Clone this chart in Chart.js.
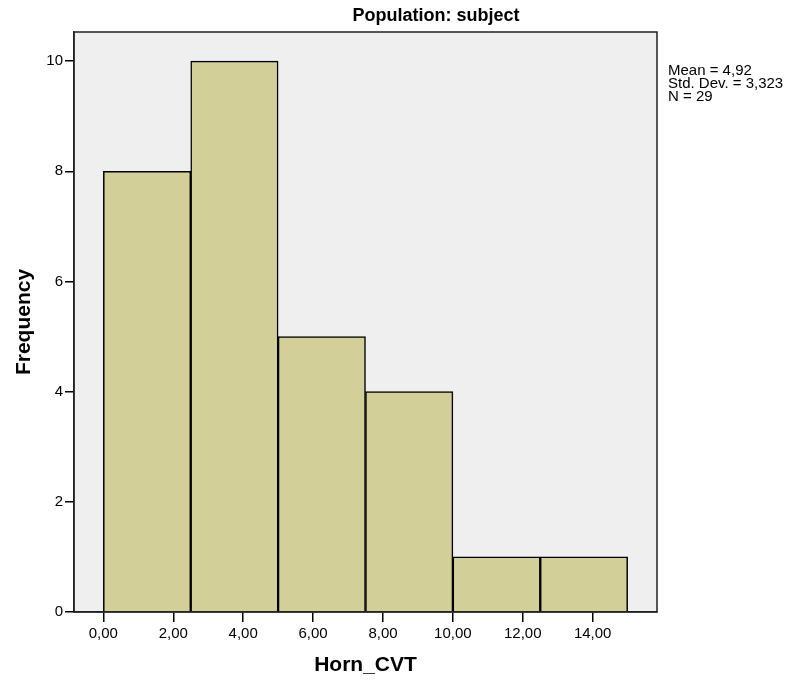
<!DOCTYPE html>
<html>
<head>
<meta charset="utf-8">
<script src="https://cdn.jsdelivr.net/npm/chart.js@4"></script>
<style>
  body { margin: 0; background: #fff; }
  canvas { display: block; }
</style>
</head>
<body>
<canvas id="histChart" width="792" height="684"></canvas>
<script>
const binStarts = [0, 2.5, 5, 7.5, 10, 12.5];
const binWidth = 2.5;
const frequencies = [8, 10, 5, 4, 1, 1];
const xTicks = [0, 2, 4, 6, 8, 10, 12, 14];
const yTicks = [0, 2, 4, 6, 8, 10];
const statsLines = ['Mean = 4,92', 'Std. Dev. = 3,323', 'N = 29'];
const chartTitle = 'Population: subject';

const FONT = "'Liberation Sans', Arial, sans-serif";
Chart.defaults.font.family = FONT;
Chart.defaults.color = '#000';

const frame = {
  id: 'frame',
  beforeDraw(chart) {
    const { ctx, chartArea: a } = chart;
    ctx.save();
    ctx.fillStyle = '#efefef';
    ctx.fillRect(a.left, a.top, a.right - a.left, a.bottom - a.top);
    ctx.restore();
  },
  afterDraw(chart) {
    const { ctx, chartArea: a } = chart;
    ctx.save();
    ctx.strokeStyle = '#222';
    ctx.lineWidth = 1.5;
    ctx.strokeRect(a.left, a.top, a.right - a.left, a.bottom - a.top);

    ctx.fillStyle = '#000';
    ctx.font = 'bold 18px ' + FONT;
    ctx.textAlign = 'center';
    ctx.textBaseline = 'middle';
    ctx.fillText(chartTitle, 436, 16);

    ctx.font = '15px ' + FONT;
    ctx.textAlign = 'left';
    ctx.textBaseline = 'alphabetic';
    statsLines.forEach((t, i) => ctx.fillText(t, 668, 75 + i * 13));
    ctx.restore();
  }
};

const fmt = v => v.toFixed(2).replace('.', ',');

const ctx = document.getElementById('histChart').getContext('2d');
const histChart = new Chart(ctx, {
  type: 'bar',
  data: {
    datasets: [{
      data: binStarts.map((s, i) => ({ x: s + binWidth / 2, y: frequencies[i] })),
      backgroundColor: '#d3cf99',
      borderColor: '#000',
      borderWidth: 1.5,
      barThickness: 'flex',
      barPercentage: 1,
      categoryPercentage: 1,
    }]
  },
  options: {
    responsive: false,
    animation: false,
    layout: { padding: { left: 0, top: 32, right: 135, bottom: 0 } },
    plugins: {
      legend: { display: false },
      tooltip: { enabled: false },
    },
    scales: {
      x: {
        type: 'linear',
        min: -0.84,
        max: 15.84,
        offset: false,
        afterBuildTicks: s => { s.ticks = xTicks.map(v => ({ value: v })); },
        afterFit: s => { s.height = 72; },
        ticks: { callback: v => fmt(v), font: { size: 15 }, color: '#000', padding: 3, maxRotation: 0 },
        grid: { offset: false, drawOnChartArea: false, drawTicks: true, tickLength: 10, color: '#000', lineWidth: 1.5 },
        border: { display: true, color: '#222', width: 1.5 },
        title: { display: true, text: 'Horn_CVT', font: { size: 21, weight: 'bold' }, color: '#000', padding: { top: 0, bottom: 6 } },
      },
      y: {
        min: 0,
        max: 10.53,
        afterBuildTicks: s => { s.ticks = yTicks.map(v => ({ value: v })); },
        afterFit: s => { s.width = 74; },
        ticks: { font: { size: 15 }, color: '#000', padding: 2 },
        grid: { drawOnChartArea: false, drawTicks: true, tickLength: 9, color: '#000', lineWidth: 1.5 },
        border: { display: true, color: '#222', width: 1.5 },
        title: { display: true, text: 'Frequency', font: { size: 21, weight: 'bold' }, color: '#000', padding: { top: 12, bottom: 0 } },
      }
    }
  },
  plugins: [frame]
});
</script>
</body>
</html>
